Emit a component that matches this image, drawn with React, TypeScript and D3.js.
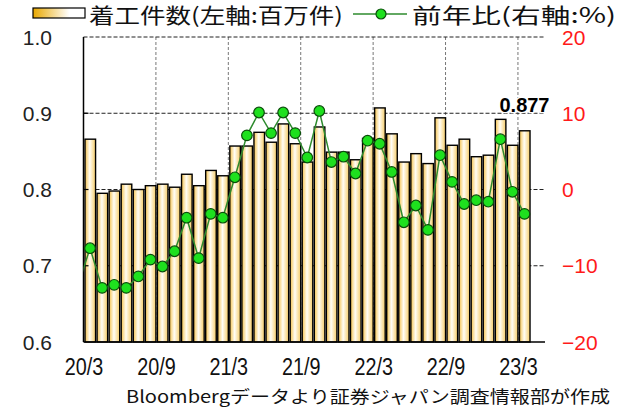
import React from 'react';
import * as d3 from 'd3';

// 着工件数 (百万件), 20/3 .. 23/3
const months = [
  '20/3', '20/4', '20/5', '20/6', '20/7', '20/8', '20/9', '20/10', '20/11', '20/12',
  '21/1', '21/2', '21/3', '21/4', '21/5', '21/6', '21/7', '21/8', '21/9', '21/10',
  '21/11', '21/12', '22/1', '22/2', '22/3', '22/4', '22/5', '22/6', '22/7', '22/8',
  '22/9', '22/10', '22/11', '22/12', '23/1', '23/2', '23/3',
];
const starts = [
  0.866, 0.795, 0.798, 0.807, 0.800, 0.805, 0.807, 0.803, 0.820, 0.805,
  0.825, 0.818, 0.857, 0.857, 0.875, 0.862, 0.886, 0.860, 0.836, 0.882,
  0.849, 0.849, 0.839, 0.867, 0.907, 0.873, 0.836, 0.847, 0.834, 0.894,
  0.858, 0.866, 0.843, 0.845, 0.892, 0.858, 0.877,
];
// 前年比 (%)
const yoy = [
  -7.7, -12.9, -12.5, -12.9, -11.4, -9.2, -10.1, -8.1, -3.7, -9.0,
  -3.2, -3.7, 1.6, 7.1, 10.1, 7.4, 10.1, 7.4, 4.2, 10.3,
  3.6, 4.3, 2.1, 6.4, 6.0, 2.3, -4.3, -2.1, -5.3, 4.5,
  1.0, -1.9, -1.4, -1.6, 6.6, -0.3, -3.2,
];
const yoyPrev = -12.6; // 20/2, only the stub at the left edge shows
const tickMonths = ['20/3', '20/9', '21/3', '21/9', '22/3', '22/9', '23/3'];
const leftTicks = [0.6, 0.7, 0.8, 0.9, 1.0];
const rightTicks = [-20, -10, 0, 10, 20];

const W = 622;
const H = 408;
const L = 83.5, R = 545, T = 37, B = 342;

export default function App() {
  const x = d3.scaleLinear().domain([0, 38.2]).range([84, R]);
  const yL = d3.scaleLinear().domain([0.6, 1.0]).range([B, T]);
  const yR = d3.scaleLinear().domain([-20, 20]).range([B, T]);
  const step = x(1) - x(0);

  const pts: [number, number][] = [[-1, yoyPrev], ...yoy.map((v, i) => [i, v] as [number, number])];
  const line = d3.line<[number, number]>()
    .x(d => x(d[0]) + step / 2)
    .y(d => yR(d[1]));

  const last = starts.length - 1;

  return (
    <svg width={W} height={H} style={{ position: 'absolute', left: 0, top: 0, background: '#fff' }}
      fontFamily="'Liberation Sans', Arial, sans-serif">
      <defs>
        <linearGradient id="barGrad" x1="0" x2="1" y1="0" y2="0">
          <stop offset="0" stopColor="#f4c24c" />
          <stop offset="0.45" stopColor="#fffdf6" />
          <stop offset="1" stopColor="#f6cc66" />
        </linearGradient>
        <linearGradient id="legGrad" x1="0" x2="1" y1="0" y2="0">
          <stop offset="0" stopColor="#e9a800" />
          <stop offset="0.7" stopColor="#ffffff" />
          <stop offset="1" stopColor="#ffffff" />
        </linearGradient>
        <clipPath id="plotClip">
          <rect x={L} y={T - 10} width={R - L} height={B - T + 20} />
        </clipPath>
      </defs>

      {/* legend */}
      <rect x={33} y={8} width={52} height={10} fill="url(#legGrad)" stroke="#000" strokeWidth={1.2} />
      <text x={89} y={23} fontSize={21} fontFamily="'Noto Sans CJK JP', sans-serif" textLength={254}
        lengthAdjust="spacingAndGlyphs" fill="#111">着工件数(左軸:百万件)</text>
      <line x1={353} x2={407} y1={14} y2={14} stroke="#2e8b2e" strokeWidth={1.5} />
      <circle cx={381} cy={14} r={5} fill="#1ee01e" stroke="#0b4d0b" strokeWidth={1.2} />
      <text x={412} y={23} fontSize={21} fontFamily="'Noto Sans CJK JP', sans-serif" textLength={204}
        lengthAdjust="spacingAndGlyphs" fill="#111">前年比(右軸:%)</text>

      {/* grid */}
      {tickMonths.slice(1).map(m => {
        const gx = x(months.indexOf(m)) - 0.5;
        return <line key={m} x1={gx} x2={gx} y1={T} y2={B} stroke="#777" strokeWidth={1} strokeDasharray="3,2" />;
      })}
      {leftTicks.slice(1).map(v => (
        <line key={v} x1={L} x2={R} y1={yL(v)} y2={yL(v)} stroke="#222" strokeWidth={1} strokeDasharray="4,2" />
      ))}

      {/* bars */}
      {starts.map((v, i) => (
        <rect key={i} x={x(i) + 1} y={yL(v)} width={step - 1.5} height={B - yL(v)}
          fill="url(#barGrad)" stroke="#000" strokeWidth={1.4} />
      ))}

      {/* axes */}
      <line x1={L} x2={L} y1={T} y2={B} stroke="#000" strokeWidth={1.5} />
      <line x1={L} x2={R} y1={B} y2={B} stroke="#000" strokeWidth={1.5} />
      {leftTicks.slice(1, -1).map(v => (
        <line key={v} x1={L} x2={L + 5} y1={yL(v)} y2={yL(v)} stroke="#000" strokeWidth={1.2} />
      ))}
      {leftTicks.map(v => (
        <text key={v} x={52} y={yL(v) + 7.5} fontSize={21} textAnchor="end" fill="#222">{v.toFixed(1)}</text>
      ))}
      {rightTicks.map(v => (
        <text key={v} x={562} y={yR(v) + 7.5} fontSize={21} fill="#ff1a1a">
          {v < 0 ? '\u2212' + Math.abs(v) : String(v)}
        </text>
      ))}
      {tickMonths.map(m => {
        const tx = x(months.indexOf(m));
        return (
          <text key={m} transform={`translate(${tx},375) scale(0.86,1)`} fontSize={23}
            textAnchor="middle" fill="#111">{m}</text>
        );
      })}

      {/* yoy line */}
      <path d={line(pts) || ''} fill="none" stroke="#2e8b2e" strokeWidth={1.5} clipPath="url(#plotClip)" />
      {yoy.map((v, i) => (
        <circle key={i} cx={x(i) + step / 2} cy={yR(v)} r={5.3} fill="#1ee01e" stroke="#0b4d0b" strokeWidth={1.2} />
      ))}

      {/* last value */}
      <text x={x(last) + step / 2} y={112} fontSize={20} fontWeight="bold" textAnchor="middle"
        textLength={50} lengthAdjust="spacingAndGlyphs" fill="#000" stroke="#fff" strokeWidth={2.5}
        style={{ paintOrder: 'stroke' }}>{starts[last].toFixed(3)}</text>

      <text x={126} y={403} fontSize={17} fontFamily="'Noto Sans CJK JP', sans-serif" textLength={484}
        lengthAdjust="spacingAndGlyphs" fill="#111">Bloombergデータより証券ジャパン調査情報部が作成</text>
    </svg>
  );
}
